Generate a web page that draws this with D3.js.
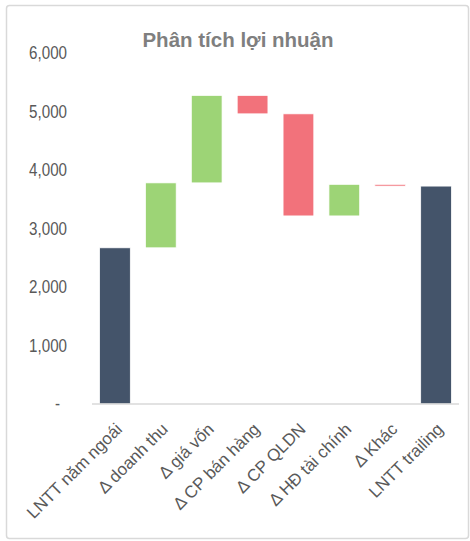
<!DOCTYPE html>
<html lang="vi">
<head>
<meta charset="UTF-8">
<title>Phân tích lợi nhuận</title>
<script src="https://d3js.org/d3.v7.min.js"></script>
<style>
  body { margin: 0; background: #fff; }
  svg text { font-family: "Liberation Sans", Arial, sans-serif; }
</style>
</head>
<body>
<svg width="470" height="541"></svg>
<script>
// du lieu
var categories = ['LNTT năm ngoái', 'Δ doanh thu', 'Δ giá vốn', 'Δ CP bán hàng', 'Δ CP QLDN', 'Δ HĐ tài chính', 'Δ Khác', 'LNTT trailing'];
var barTypes = ['total', 'delta', 'delta', 'delta', 'delta', 'delta', 'delta', 'total'];
var values = [2670, 1110, 1495, -315, -1745, 540, -30, 3725];
var yTicks = [0, 1000, 2000, 3000, 4000, 5000, 6000];

var colors = { total: '#44546A', up: '#9DD476', down: '#F2727B' };

var svg = d3.select('svg');

// khung ngoai
svg.append('rect')
  .attr('x', 6.5).attr('y', 5.5)
  .attr('width', 462).attr('height', 533)
  .attr('rx', 3)
  .attr('fill', '#fff')
  .attr('stroke', '#d9d9d9')
  .attr('stroke-width', 1.5);

// tinh vi tri bat dau / ket thuc cua tung cot
var running = 0;
var bars = categories.map(function(c, i) {
  var d = { name: c, type: barTypes[i] };
  if (barTypes[i] === 'total') {
    d.start = 0; d.end = values[i];
    running = values[i];
  } else {
    d.start = running; d.end = running + values[i];
    running = d.end;
  }
  return d;
});

var x = d3.scaleBand()
  .domain(categories)
  .range([92, 459])
  .paddingInner(0.33)
  .paddingOuter(0.165);

var y = d3.scaleLinear()
  .domain([0, 6000])
  .range([404, 53]);

// tieu de
svg.append('text')
  .attr('x', 238).attr('y', 47)
  .attr('text-anchor', 'middle')
  .attr('font-size', 20.5)
  .attr('font-weight', 'bold')
  .attr('fill', '#7f7f7f')
  .text('Phân tích lợi nhuận');

// nhan truc y - chu hep (ep ngang de giong Arial Narrow)
var fmt = d3.format(',');
svg.append('g').selectAll('text')
  .data(yTicks)
  .enter().append('text')
  .attr('transform', function(d) {
    return 'translate(' + (d === 0 ? 60 : 67) + ',' + y(d) + ') scale(0.82,1)';
  })
  .attr('text-anchor', 'end')
  .attr('dy', '0.35em')
  .attr('font-size', 18.5)
  .attr('fill', '#595959')
  .text(function(d) { return d === 0 ? '-' : fmt(d); });

// cot
svg.append('g').selectAll('rect')
  .data(bars)
  .enter().append('rect')
  .attr('x', function(d) { return x(d.name); })
  .attr('width', x.bandwidth())
  .attr('y', function(d) { return y(Math.max(d.start, d.end)); })
  .attr('height', function(d) { return Math.max(1, Math.abs(y(d.start) - y(d.end))); })
  .attr('fill', function(d) {
    if (d.type === 'total') return colors.total;
    return d.end >= d.start ? colors.up : colors.down;
  })
  .attr('stroke', '#fff')
  .attr('stroke-width', 0.75);

// duong truc x
svg.append('line')
  .attr('x1', 92).attr('x2', 459)
  .attr('y1', y(0)).attr('y2', y(0))
  .attr('stroke', '#d9d9d9')
  .attr('stroke-width', 1.5);

// nhan danh muc xoay 45 do
svg.append('g').selectAll('text')
  .data(categories)
  .enter().append('text')
  .attr('transform', function(d) {
    return 'translate(' + (x(d) + x.bandwidth() / 2 + 4) + ',426) rotate(-45)';
  })
  .attr('text-anchor', 'end')
  .attr('dy', '0.35em')
  .attr('font-size', 17)
  .attr('fill', '#595959')
  .text(function(d) { return d; });
</script>
</body>
</html>
